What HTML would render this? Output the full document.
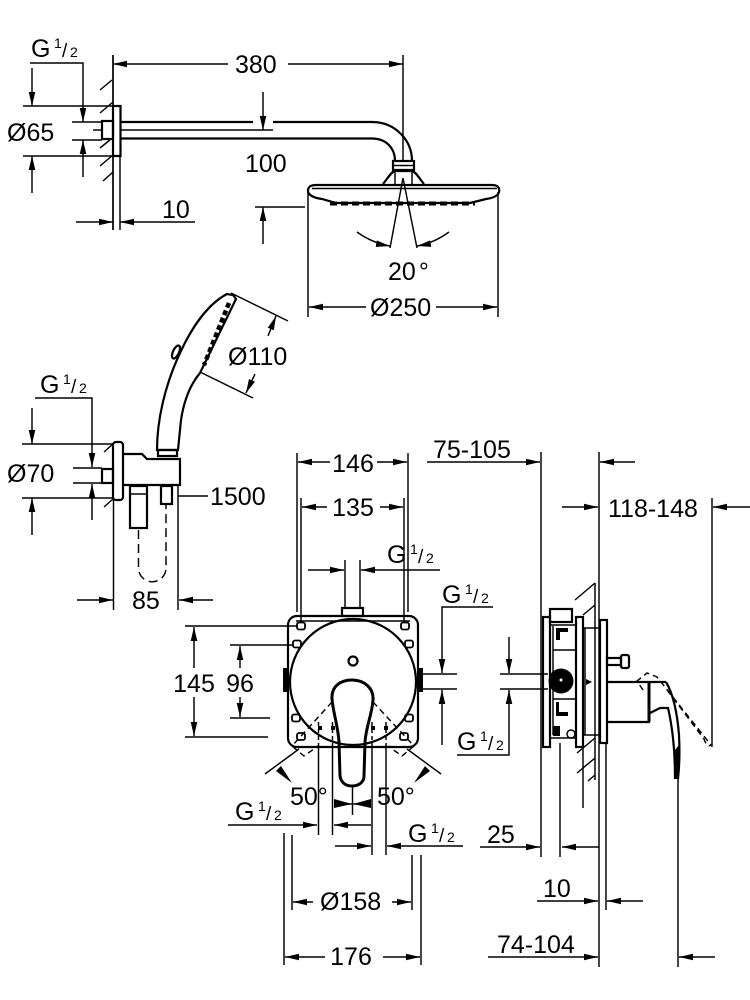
<!DOCTYPE html>
<html><head><meta charset="utf-8"><style>
html,body{margin:0;padding:0;background:#fff;}
svg{display:block}
.d{stroke:#000;stroke-width:1.45;fill:none}
.o{stroke:#000;stroke-width:2.2;fill:none}
.m{marker-end:url(#a)}
.ds{stroke-dasharray:6 4}
text{font-family:"Liberation Sans",Arial,sans-serif;font-size:25px;fill:#000}
.s{font-size:14px}
.sl{font-size:19px}
</style></head><body>
<svg width="750" height="1000" viewBox="0 0 750 1000" xmlns="http://www.w3.org/2000/svg">
<defs>
<marker id="a" viewBox="0 0 14 8" refX="14" refY="4" markerWidth="14" markerHeight="8" orient="auto" markerUnits="userSpaceOnUse"><path d="M0,0.7 L14,4 L0,7.3z" fill="#000"/></marker>
</defs>

<!-- ============ TOP SHOWER ============ -->
<line class="d m" x1="228" y1="64" x2="113" y2="64"/>
<line class="d m" x1="288" y1="64" x2="403" y2="64"/>
<text x="235" y="73">380</text>
<line class="d" x1="113" y1="55" x2="113" y2="230" style="stroke-width:1.7"/>
<line class="d" x1="120" y1="155" x2="120" y2="230"/>
<line class="d" x1="403" y1="55" x2="403" y2="162"/>
<line class="d m" x1="76" y1="222" x2="113" y2="222"/>
<line class="d m" x1="195" y1="222" x2="120" y2="222"/>
<text x="162" y="218">10</text>

<g transform="translate(31,57)"><text x="0" y="0">G</text><text x="23" y="-9" class="s">1</text><text x="31" y="0" class="sl">/</text><text x="39" y="0" class="s">2</text></g>
<polyline class="d m" points="30,63 83,63 83,122"/>
<line class="d m" x1="83" y1="177" x2="83" y2="140"/>
<line class="d" x1="72" y1="122" x2="102" y2="122"/>
<line class="d" x1="72" y1="140" x2="102" y2="140"/>

<line class="d m" x1="32" y1="68" x2="32" y2="106"/>
<line class="d m" x1="32" y1="193" x2="32" y2="156"/>
<line class="d" x1="23" y1="106" x2="113" y2="106"/>
<line class="d" x1="23" y1="156" x2="113" y2="156"/>
<text x="7" y="141">Ø65</text>

<path class="d" d="M100,90 L112,80 M100,113 L113,102 M100,148 L110,140 M100,166 L113,155 M103,181 L113,172"/>
<rect class="o" x="113" y="106" width="7.5" height="50" fill="#fff"/>
<rect class="o" x="102" y="121" width="11" height="18" fill="#fff"/>
<line class="d" x1="93" y1="130" x2="102" y2="130"/>
<line class="d" x1="121" y1="130" x2="273" y2="130"/>
<path class="o" d="M120.5,122 L253,122 M273,122 L372,122 C395,122 412,140 412,161"/>
<path class="o" d="M120.5,138.5 L372,138.5 C386,138.5 395,148 395,161"/>

<line class="d m" x1="263" y1="92" x2="263" y2="130"/>
<line class="d" x1="255" y1="207" x2="305" y2="207"/>
<line class="d m" x1="263" y1="244" x2="263" y2="207"/>
<text x="245" y="172">100</text>

<rect class="o" x="393" y="161" width="21" height="9" fill="#fff"/>
<line class="d" x1="393" y1="165.5" x2="414" y2="165.5"/>
<path class="o" d="M383,184 C388,178 391,172 395,171 L412,171 C416,172 419,178 424,184"/>
<path class="d" d="M395,171 L395,184 M412,171 L412,184"/>
<path class="o" d="M308,191 C308,187 310,185 316,185 L492,185 C498,185 500,188 499,192 C498,196 493,198 486,199 L470,203 L336,203 L322,199 C314,198 308,195 308,191 Z"/>
<line class="d" x1="312" y1="188.5" x2="497" y2="188.5"/>
<line x1="330" y1="203.5" x2="475" y2="203.5" stroke="#000" stroke-width="4" stroke-dasharray="7 4"/>

<line class="d" x1="308" y1="192" x2="308" y2="317"/>
<line class="d" x1="498" y1="192" x2="498" y2="317"/>
<line class="d m" x1="366" y1="307" x2="309" y2="307"/>
<line class="d m" x1="436" y1="307" x2="497" y2="307"/>
<text x="370" y="316">Ø250</text>

<path class="d" d="M403,178 L390,248 M403,178 L417,248"/>
<path class="d m" d="M357,232 Q372,243 390,246"/>
<path class="d m" d="M449,232 Q434,243 417,246"/>
<text x="388" y="280">20<tspan dx="3">°</tspan></text>

<!-- ============ HAND SHOWER ============ -->
<g transform="translate(40,393)"><text x="0" y="0">G</text><text x="23" y="-9" class="s">1</text><text x="31" y="0" class="sl">/</text><text x="39" y="0" class="s">2</text></g>
<polyline class="d m" points="35,398 92,398 92,467"/>
<line class="d m" x1="92" y1="520" x2="92" y2="484"/>
<line class="d" x1="73" y1="468" x2="102" y2="468"/>
<line class="d" x1="73" y1="483" x2="102" y2="483"/>
<line class="d m" x1="32" y1="408" x2="32" y2="444"/>
<line class="d m" x1="32" y1="535" x2="32" y2="498"/>
<line class="d" x1="22" y1="444" x2="113" y2="444"/>
<line class="d" x1="22" y1="498" x2="113" y2="498"/>
<text x="7" y="482">Ø70</text>
<path class="d" d="M104,452 L114,443 M104,507 L113,499"/>
<line class="d" x1="113.5" y1="500" x2="113.5" y2="610"/>
<rect class="o" x="113" y="442" width="10" height="58" rx="3" fill="#fff"/>
<rect class="o" x="102" y="469" width="11" height="14" fill="#fff"/>
<path class="o" d="M123,454 L142,454 L147,459 L180,459 L180,485 L123,485"/>
<rect class="o" x="130" y="486" width="17" height="42"/>
<line class="d" x1="130" y1="494" x2="147" y2="494"/>
<rect class="o" x="161" y="486" width="11" height="18"/>
<path class="d" stroke-dasharray="9 5" d="M138.5,530 L138.5,568 A13.75,13.75 0 0 0 166,568 L166,505"/>
<line class="d" x1="178" y1="485" x2="178" y2="610"/>
<line class="d" x1="178" y1="496" x2="208" y2="496"/>
<text x="210" y="505">1500</text>
<line class="d m" x1="77" y1="600" x2="113" y2="600"/>
<line class="d m" x1="213" y1="600" x2="179" y2="600"/>
<text x="132" y="609">85</text>

<path class="o" fill="#fff" d="M157,450 C157,420 165,385 180,353 C192,327 208,304 227,294 L233,295 L236,299 L200,373 C190,385 184,400 181,420 L178,450 Z"/>
<rect class="o" x="158" y="450" width="19" height="6" fill="#fff"/>
<line x1="229" y1="303" x2="204" y2="365" stroke="#000" stroke-width="4.5" stroke-dasharray="5 3"/>
<ellipse class="o" cx="176" cy="352" rx="3" ry="7" transform="rotate(25 176 352)"/>
<line class="d" x1="231" y1="293" x2="288" y2="321"/>
<line class="d" x1="200" y1="372" x2="253" y2="398"/>
<line class="d m" x1="268" y1="336" x2="276" y2="316"/>
<line class="d m" x1="255" y1="374" x2="246" y2="393"/>
<text x="228" y="365">Ø110</text>

<!-- ============ MIXER FRONT ============ -->
<line class="d" x1="297" y1="453" x2="297" y2="612"/>
<line class="d" x1="408" y1="453" x2="408" y2="612"/>
<line class="d m" x1="330" y1="462" x2="298" y2="462"/>
<line class="d m" x1="377" y1="462" x2="407" y2="462"/>
<text x="353" y="472" text-anchor="middle">146</text>
<line class="d" x1="301" y1="498" x2="301" y2="622"/>
<line class="d" x1="404" y1="498" x2="404" y2="622"/>
<line class="d m" x1="327" y1="507" x2="302" y2="507"/>
<line class="d m" x1="380" y1="507" x2="403" y2="507"/>
<text x="353" y="516" text-anchor="middle">135</text>

<line class="d" x1="345" y1="560" x2="345" y2="609"/>
<line class="d" x1="360" y1="560" x2="360" y2="609"/>
<line class="d m" x1="308" y1="570" x2="344" y2="570"/>
<line class="d m" x1="440" y1="570" x2="361" y2="570"/>
<g transform="translate(387,563)"><text x="0" y="0">G</text><text x="23" y="-9" class="s">1</text><text x="31" y="0" class="sl">/</text><text x="39" y="0" class="s">2</text></g>

<rect class="o" x="342" y="608" width="21" height="8" fill="#fff"/>
<rect class="o" x="288" y="616" width="130" height="131" rx="9" fill="#fff"/>
<line class="d" x1="296" y1="621" x2="410" y2="621"/>
<rect x="283" y="668" width="4" height="24" fill="#000"/>
<rect x="419" y="668" width="4" height="24" fill="#000"/>
<g class="o" style="stroke-width:1.8">
<rect x="297" y="622.5" width="8" height="7" rx="2"/>
<rect x="401" y="622.5" width="8" height="7" rx="2"/>
<rect x="293" y="640.5" width="8" height="7" rx="2"/>
<rect x="405" y="640.5" width="8" height="7" rx="2"/>
<rect x="292" y="714.5" width="8" height="7" rx="2"/>
<rect x="405" y="714.5" width="8" height="7" rx="2"/>
<rect x="297" y="733" width="8" height="7" rx="2"/>
<rect x="400" y="733" width="8" height="7" rx="2"/>
</g>
<circle class="o" cx="353" cy="682" r="63"/>
<circle class="o" cx="353" cy="661" r="4.5"/>
<path class="d ds" d="M332,702 L292,746 L304,756 L318,746 M373,702 L414,746 L402,756 L388,746"/>
<path class="d" stroke-dasharray="4 3" d="M318.5,722 L318.5,746 M332.5,722 L332.5,746 M372,722 L372,746 M386,722 L386,746"/>
<rect x="318" y="726" width="4" height="4" fill="#000"/>
<rect x="331" y="726" width="4" height="4" fill="#000"/>
<rect x="371" y="726" width="4" height="4" fill="#000"/>
<rect x="384" y="726" width="4" height="4" fill="#000"/>
<path class="o" fill="#fff" style="stroke-width:3" d="M332,699 C331,686 341,680 352,680 C364,680 374,688 373,700 C372,715 366,726 365,742 L364,776 C364,782 359,786 352,786 C345,786 341,782 340,776 L339,742 C338,726 333,712 332,699 Z"/>

<line class="d" x1="318.5" y1="746" x2="318.5" y2="835"/>
<line class="d" x1="332.5" y1="746" x2="332.5" y2="835"/>
<line class="d" x1="372" y1="746" x2="372" y2="855"/>
<line class="d" x1="386" y1="746" x2="386" y2="855"/>
<line class="d" x1="352.5" y1="786" x2="352.5" y2="815"/>
<line class="d" x1="334" y1="804" x2="371" y2="804"/>
<polygon points="334,799 334,808 352,804" fill="#000"/>
<polygon points="371,799 371,808 353,804" fill="#000"/>

<line class="d" x1="299" y1="749" x2="265" y2="774"/>
<polygon points="281,766 276,771 292,783" fill="#000"/>
<line class="d" x1="407" y1="749" x2="441" y2="774"/>
<polygon points="425,766 430,771 414,783" fill="#000"/>
<text x="290" y="805">50°</text>
<text x="377" y="805">50°</text>

<line class="d m" x1="228" y1="825" x2="317" y2="825"/>
<line class="d m" x1="371" y1="825" x2="334" y2="825"/>
<g transform="translate(235,820)"><text x="0" y="0">G</text><text x="23" y="-9" class="s">1</text><text x="31" y="0" class="sl">/</text><text x="39" y="0" class="s">2</text></g>
<line class="d m" x1="335" y1="846" x2="371" y2="846"/>
<line class="d m" x1="463" y1="846" x2="387" y2="846"/>
<g transform="translate(408,842)"><text x="0" y="0">G</text><text x="23" y="-9" class="s">1</text><text x="31" y="0" class="sl">/</text><text x="39" y="0" class="s">2</text></g>

<line class="d" x1="292" y1="835" x2="292" y2="910"/>
<line class="d" x1="412" y1="855" x2="412" y2="910"/>
<line class="d m" x1="313" y1="902" x2="293" y2="902"/>
<line class="d m" x1="392" y1="902" x2="411" y2="902"/>
<text x="320" y="910">Ø158</text>
<line class="d" x1="284" y1="833" x2="284" y2="965"/>
<line class="d" x1="421" y1="855" x2="421" y2="965"/>
<line class="d m" x1="325" y1="957" x2="285" y2="957"/>
<line class="d m" x1="383" y1="957" x2="420" y2="957"/>
<text x="351" y="965" text-anchor="middle">176</text>

<line class="d" x1="185" y1="626" x2="297" y2="626"/>
<line class="d" x1="185" y1="737" x2="268" y2="737"/>
<line class="d m" x1="194" y1="668" x2="194" y2="627"/>
<line class="d m" x1="194" y1="697" x2="194" y2="736"/>
<line class="d" x1="230" y1="645" x2="293" y2="645"/>
<line class="d" x1="230" y1="718" x2="270" y2="718"/>
<line class="d m" x1="240" y1="668" x2="240" y2="646"/>
<line class="d m" x1="240" y1="697" x2="240" y2="717"/>
<text x="194" y="692" text-anchor="middle">145</text>
<text x="240" y="692" text-anchor="middle">96</text>

<line class="d" x1="420" y1="674" x2="457" y2="674"/>
<line class="d" x1="420" y1="689" x2="457" y2="689"/>
<polyline class="d m" points="493,607 442,607 442,673"/>
<line class="d m" x1="442" y1="745" x2="442" y2="690"/>
<g transform="translate(442,603)"><text x="0" y="0">G</text><text x="23" y="-9" class="s">1</text><text x="31" y="0" class="sl">/</text><text x="39" y="0" class="s">2</text></g>

<!-- ============ SIDE VIEW ============ -->
<line class="d" x1="541" y1="452" x2="541" y2="857"/>
<line class="d" x1="599" y1="452" x2="599" y2="967"/>
<line class="d" x1="595" y1="583" x2="595" y2="780"/>
<line class="d m" x1="427" y1="462" x2="540" y2="462"/>
<line class="d m" x1="635" y1="462" x2="600" y2="462"/>
<text x="433" y="458">75-105</text>
<line class="d m" x1="562" y1="507" x2="598" y2="507"/>
<text x="608" y="517">118-148</text>
<line class="d" x1="712" y1="498" x2="712" y2="747"/>
<line class="d m" x1="750" y1="507" x2="713" y2="507"/>

<line class="d" x1="500" y1="674" x2="548" y2="674"/>
<line class="d" x1="500" y1="689" x2="548" y2="689"/>
<line class="d m" x1="509" y1="637" x2="509" y2="673"/>
<polyline class="d m" points="457,755 509,755 509,690"/>
<g transform="translate(457,750)"><text x="0" y="0">G</text><text x="23" y="-9" class="s">1</text><text x="31" y="0" class="sl">/</text><text x="39" y="0" class="s">2</text></g>

<path class="d" d="M575,600 L595,583 M583,615 L595,605 M577,753 L595,738 M577,773 L595,758 M588,781 L595,775"/>
<rect class="o" x="543" y="617" width="7" height="130" fill="#fff"/>
<rect class="o" x="550" y="609" width="22" height="13" fill="#fff"/>
<rect class="o" x="576" y="617" width="7" height="130" fill="#fff"/>
<rect class="o" x="600" y="620" width="7" height="123" fill="#fff"/>
<line class="d" x1="553" y1="626" x2="553" y2="735"/>
<path class="d" d="M550,625 L576,625 M553,650 L576,650 M553,699 L576,699 M550,738 L576,738 M583,628 L599,628 M583,735 L599,735 M585,628 L585,735"/>
<path d="M556,628 h12 v4 h-8 v8 h-4z" fill="#000"/>
<path d="M556,702 h3 v10 h9 v4 h-12z" fill="#000"/>
<rect x="553" y="726" width="7" height="10" fill="#000"/>
<circle class="d" cx="571" cy="734" r="4"/>
<circle cx="561" cy="681" r="12.5" fill="#000"/>
<circle cx="561" cy="680" r="1.5" fill="#fff"/>
<polygon points="586,679 592,682 586,685" fill="#000"/>
<rect class="o" x="607" y="658" width="14" height="7"/>
<rect class="o" x="621" y="655" width="8" height="13" rx="2"/>

<path class="o" d="M607,682 L666,682 M607,722 L650,722"/>
<line x1="649" y1="682" x2="649" y2="722" stroke="#000" stroke-width="3"/>
<path class="o" d="M666,682 C672,692 677,710 679,735 C680,755 679,770 678,779"/>
<path class="o" d="M650,713 L660,708 L668,708 C672,725 675,750 675,779"/>
<path fill="#000" d="M675,750 C676,760 675,770 675,779 L678,779 C679,770 680,755 679,745 Z"/>
<path class="d ds" d="M643,690 L637,681 L647,673 L657,677 L711,745 M667,690 L704,739 Q707,748 711,745"/>

<line class="d" x1="560" y1="743" x2="560" y2="857"/>
<line class="d" x1="583" y1="747" x2="583" y2="808"/>
<line class="d" x1="606" y1="743" x2="606" y2="910"/>
<line class="d" x1="678" y1="779" x2="678" y2="967"/>
<line class="d m" x1="480" y1="847" x2="540" y2="847"/>
<line class="d m" x1="599" y1="847" x2="562" y2="847"/>
<text x="487" y="843">25</text>
<line class="d m" x1="537" y1="901" x2="598" y2="901"/>
<line class="d m" x1="643" y1="901" x2="607" y2="901"/>
<text x="543" y="897">10</text>
<line class="d m" x1="488" y1="957" x2="598" y2="957"/>
<line class="d m" x1="715" y1="957" x2="679" y2="957"/>
<text x="497" y="953">74-104</text>
</svg>
</body></html>
